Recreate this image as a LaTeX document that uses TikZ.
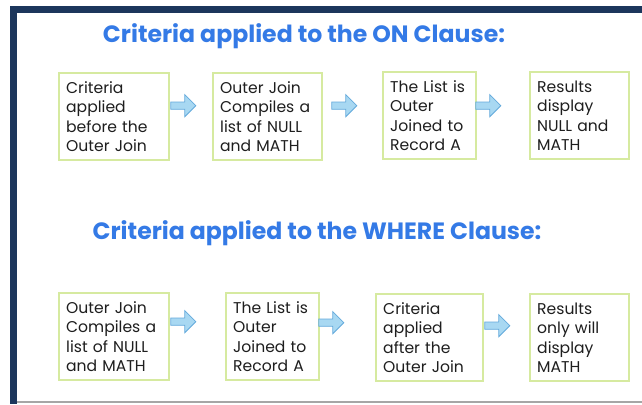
\documentclass[tikz,border=0pt]{standalone}
\usepackage{fontspec}
\setmainfont{Poppins}
\newfontfamily\titlefont{Poppins}[UprightFont=* Bold]
\usetikzlibrary{shapes.arrows,calc}
\definecolor{navy}{RGB}{28,54,92}
\definecolor{boxgreen}{RGB}{214,234,160}
\definecolor{arrowfill}{RGB}{168,216,242}
\definecolor{arrowline}{RGB}{100,170,220}
\definecolor{titleblue}{RGB}{52,122,230}
\definecolor{txt}{RGB}{30,30,30}
\tikzset{
  box/.style={draw=boxgreen, line width=2.4bp, fill=white, align=left,
    anchor=north west, inner xsep=7bp, inner ysep=0pt, minimum height=87bp,
    text=txt, font=\fontsize{15.6bp}{19.6bp}\selectfont},
  flow/.style={single arrow, draw=arrowline, fill=arrowfill, line width=0.8bp,
    minimum width=22bp, single arrow head extend=4.5bp, minimum height=25bp,
    inner sep=1.8bp, anchor=west},
  ttl/.style={font=\titlefont\fontsize{23.6bp}{28bp}\selectfont, text=titleblue}
}
\begin{document}
\begin{tikzpicture}[x=1bp,y=-1bp]
\useasboundingbox (0,0) rectangle (642,404);
\fill[white] (0,0) rectangle (642,404);
% frame
\fill[navy] (10,6) rectangle (642,12.5);
\fill[navy] (10,6) rectangle (17,404);
\fill[black!35] (17,400.5) rectangle (642,402.5);
% titles
\node[ttl] (t1) at (304,36) {Criteria applied to the ON Clause:};
\node[ttl] (t2) at (317,233) {Criteria applied to the WHERE Clause:};
% top row
\node[box, text width=96bp] (a1) at (58,72) {Criteria\\applied\\before the\\Outer Join};
\node[box, text width=95bp] (a2) at (212,72) {Outer Join\\Compiles a\\list of NULL\\and MATH};
\node[box, text width=79bp] (a3) at (382,71) {The List is\\Outer\\Joined to\\Record A};
\node[box, text width=85bp] (a4) at (529,71) {Results\\display\\NULL and\\MATH};
\node[flow] (f1) at ($(a1.east)+(0,-11)$) {};
\node[flow] (f2) at ($(a2.east)+(8,-11)$) {};
\node[flow] (f3) at ($(a3.east)+(-2,-10)$) {};
% bottom row
\node[box, text width=96bp] (b1) at (58,292) {Outer Join\\Compiles a\\list of NULL\\and MATH};
\node[box, text width=79bp] (b2) at (225,292) {The List is\\Outer\\Joined to\\Record A};
\node[box, text width=93bp] (b3) at (375,293) {Criteria\\applied\\after the\\Outer Join};
\node[box, text width=85bp] (b4) at (529,293) {Results\\only will\\display\\MATH};
\node[flow] (g1) at ($(b1.east)+(0,-15)$) {};
\node[flow] (g2) at ($(b2.east)+(-2,-14)$) {};
\node[flow] (g3) at ($(b3.east)+(0,-12)$) {};
\end{tikzpicture}
\end{document}
